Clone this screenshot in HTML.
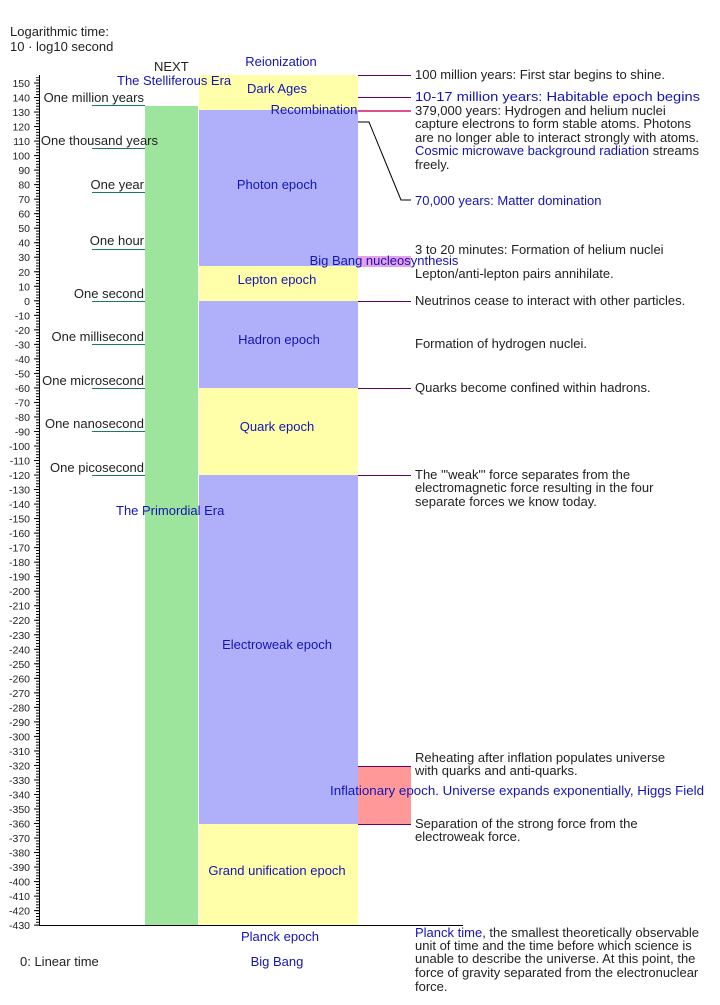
<!DOCTYPE html>
<html><head><meta charset="utf-8"><style>
body{margin:0;background:#fff}
svg text{font-family:"Liberation Sans",sans-serif;font-size:13px;fill:#222}
.b{fill:#1414b4}
.t{font-size:10.5px;text-anchor:end}
</style></head><body>
<svg width="720" height="1000" xmlns="http://www.w3.org/2000/svg">
<defs>
<pattern id="mn" patternUnits="userSpaceOnUse" x="0" y="82.5" width="10" height="2.904"><rect x="0" y="0" width="10" height="1" fill="#000"/></pattern>
<pattern id="mj" patternUnits="userSpaceOnUse" x="0" y="82.5" width="10" height="14.52"><rect x="0" y="0" width="10" height="1" fill="#000"/></pattern>
</defs>
<text x="10" y="36">Logarithmic time:</text>
<text x="10" y="51">10 · log10 second</text>
<rect x="145" y="106" width="53" height="819" fill="#9de49d"/>
<rect x="199" y="75" width="159" height="35" fill="#ffffaa"/>
<rect x="199" y="110" width="159" height="156" fill="#b0b0fa"/>
<rect x="199" y="266" width="159" height="35" fill="#ffffaa"/>
<rect x="199" y="301" width="159" height="87" fill="#b0b0fa"/>
<rect x="199" y="388" width="159" height="87" fill="#ffffaa"/>
<rect x="199" y="475" width="159" height="349" fill="#b0b0fa"/>
<rect x="199" y="824" width="159" height="101" fill="#ffffaa"/>
<rect x="358" y="766" width="53" height="58" fill="#ff9999"/>
<rect x="358" y="256" width="53" height="11" fill="#e6a0e6"/>
<rect x="36" y="77" width="3" height="848" fill="url(#mn)"/>
<rect x="34" y="77" width="5" height="849" fill="url(#mj)"/>
<line x1="39.5" y1="75" x2="39.5" y2="925" stroke="#000"/>
<line x1="39" y1="925.5" x2="463" y2="925.5" stroke="#000"/>
<g class="tl">
<text class="t" x="30" y="87">150</text><text class="t" x="30" y="101.5">140</text><text class="t" x="30" y="116">130</text><text class="t" x="30" y="130.6">120</text><text class="t" x="30" y="145.1">110</text><text class="t" x="30" y="159.6">100</text><text class="t" x="30" y="174.1">90</text><text class="t" x="30" y="188.6">80</text><text class="t" x="30" y="203.2">70</text><text class="t" x="30" y="217.7">60</text><text class="t" x="30" y="232.2">50</text><text class="t" x="30" y="246.7">40</text><text class="t" x="30" y="261.2">30</text><text class="t" x="30" y="275.8">20</text><text class="t" x="30" y="290.3">10</text><text class="t" x="30" y="304.8">0</text><text class="t" x="30" y="319.3">-10</text><text class="t" x="30" y="333.8">-20</text><text class="t" x="30" y="348.4">-30</text><text class="t" x="30" y="362.9">-40</text><text class="t" x="30" y="377.4">-50</text><text class="t" x="30" y="391.9">-60</text><text class="t" x="30" y="406.4">-70</text><text class="t" x="30" y="421">-80</text><text class="t" x="30" y="435.5">-90</text><text class="t" x="30" y="450">-100</text><text class="t" x="30" y="464.5">-110</text><text class="t" x="30" y="479">-120</text><text class="t" x="30" y="493.6">-130</text><text class="t" x="30" y="508.1">-140</text><text class="t" x="30" y="522.6">-150</text><text class="t" x="30" y="537.1">-160</text><text class="t" x="30" y="551.6">-170</text><text class="t" x="30" y="566.2">-180</text><text class="t" x="30" y="580.7">-190</text><text class="t" x="30" y="595.2">-200</text><text class="t" x="30" y="609.7">-210</text><text class="t" x="30" y="624.2">-220</text><text class="t" x="30" y="638.8">-230</text><text class="t" x="30" y="653.3">-240</text><text class="t" x="30" y="667.8">-250</text><text class="t" x="30" y="682.3">-260</text><text class="t" x="30" y="696.8">-270</text><text class="t" x="30" y="711.4">-280</text><text class="t" x="30" y="725.9">-290</text><text class="t" x="30" y="740.4">-300</text><text class="t" x="30" y="754.9">-310</text><text class="t" x="30" y="769.4">-320</text><text class="t" x="30" y="784">-330</text><text class="t" x="30" y="798.5">-340</text><text class="t" x="30" y="813">-350</text><text class="t" x="30" y="827.5">-360</text><text class="t" x="30" y="842">-370</text><text class="t" x="30" y="856.6">-380</text><text class="t" x="30" y="871.1">-390</text><text class="t" x="30" y="885.6">-400</text><text class="t" x="30" y="900.1">-410</text><text class="t" x="30" y="914.6">-420</text><text class="t" x="30" y="929.2">-430</text>
</g>
<g stroke="#1a7a5a">
<line x1="92" y1="105.5" x2="145" y2="105.5"/>
<line x1="92" y1="148.5" x2="145" y2="148.5"/>
<line x1="92" y1="192.5" x2="145" y2="192.5"/>
<line x1="92" y1="249.5" x2="145" y2="249.5"/>
<line x1="92" y1="301.5" x2="145" y2="301.5"/>
<line x1="92" y1="344.5" x2="145" y2="344.5"/>
<line x1="92" y1="388.5" x2="145" y2="388.5"/>
<line x1="92" y1="431.5" x2="145" y2="431.5"/>
<line x1="92" y1="475.5" x2="145" y2="475.5"/>
</g>
<g text-anchor="end">
<text x="144" y="102">One million years</text>
<text x="158" y="145">One thousand years</text>
<text x="144" y="189">One year</text>
<text x="144" y="245">One hour</text>
<text x="144" y="298">One second</text>
<text x="144" y="341">One millisecond</text>
<text x="144" y="385">One microsecond</text>
<text x="144" y="428">One nanosecond</text>
<text x="144" y="472">One picosecond</text>
</g>
<text x="154" y="71">NEXT</text>
<text class="b" x="117" y="85">The Stelliferous Era</text>
<text class="b" x="116" y="515">The Primordial Era</text>
<g stroke="#660066">
<line x1="358" y1="75.5" x2="411" y2="75.5"/>
<line x1="358" y1="97.5" x2="411" y2="97.5"/>
<line x1="358" y1="301.5" x2="411" y2="301.5"/>
<line x1="358" y1="388.5" x2="411" y2="388.5"/>
<line x1="358" y1="475.5" x2="411" y2="475.5"/>
<line x1="358" y1="766.5" x2="411" y2="766.5"/>
<line x1="358" y1="824.5" x2="411" y2="824.5"/>
</g>
<line x1="358" y1="111" x2="411" y2="111" stroke="#e0508a" stroke-width="2"/>
<polyline points="358,122 369,122 401,200 411,200" fill="none" stroke="#000"/>
<g text-anchor="middle">
<text class="b" x="281" y="66">Reionization</text>
<text class="b" x="277" y="93">Dark Ages</text>
<text class="b" x="314" y="114">Recombination</text>
<text class="b" x="277" y="189">Photon epoch</text>
<text class="b" x="384" y="265">Big Bang nucleosynthesis</text>
<text class="b" x="277" y="284">Lepton epoch</text>
<text class="b" x="279" y="344">Hadron epoch</text>
<text class="b" x="277" y="431">Quark epoch</text>
<text class="b" x="277" y="649">Electroweak epoch</text>
<text class="b" x="277" y="875">Grand unification epoch</text>
<text class="b" x="280" y="941">Planck epoch</text>
<text class="b" x="277" y="966">Big Bang</text>
</g>
<text x="20" y="966">0: Linear time</text>
<text x="415" y="79">100 million years: First star begins to shine.</text>
<text class="b" x="415" y="101" textLength="285" lengthAdjust="spacingAndGlyphs">10-17 million years: Habitable epoch begins</text>
<text x="415" y="115">379,000 years: Hydrogen and helium nuclei</text>
<text x="415" y="128">capture electrons to form stable atoms. Photons</text>
<text x="415" y="142">are no longer able to interact strongly with atoms.</text>
<text x="415" y="155"><tspan class="b">Cosmic microwave background radiation</tspan> streams</text>
<text x="415" y="169">freely.</text>
<text class="b" x="415" y="205">70,000 years: Matter domination</text>
<text x="415" y="254">3 to 20 minutes: Formation of helium nuclei</text>
<text x="415" y="278">Lepton/anti-lepton pairs annihilate.</text>
<text x="415" y="305">Neutrinos cease to interact with other particles.</text>
<text x="415" y="348">Formation of hydrogen nuclei.</text>
<text x="415" y="392">Quarks become confined within hadrons.</text>
<text x="415" y="479">The '"weak"' force separates from the</text>
<text x="415" y="492">electromagnetic force resulting in the four</text>
<text x="415" y="506">separate forces we know today.</text>
<text x="415" y="762">Reheating after inflation populates universe</text>
<text x="415" y="775">with quarks and anti-quarks.</text>
<text class="b" x="330" y="795" textLength="374" lengthAdjust="spacingAndGlyphs">Inflationary epoch. Universe expands exponentially,  Higgs Field</text>
<text x="415" y="828">Separation of the strong force from the</text>
<text x="415" y="841">electroweak force.</text>
<text x="415" y="937"><tspan class="b">Planck time</tspan>, the smallest theoretically observable</text>
<text x="415" y="950">unit of time and the time before which science is</text>
<text x="415" y="963">unable to describe the universe. At this point, the</text>
<text x="415" y="977">force of gravity separated from the electronuclear</text>
<text x="415" y="991">force.</text>
</svg>
</body></html>
